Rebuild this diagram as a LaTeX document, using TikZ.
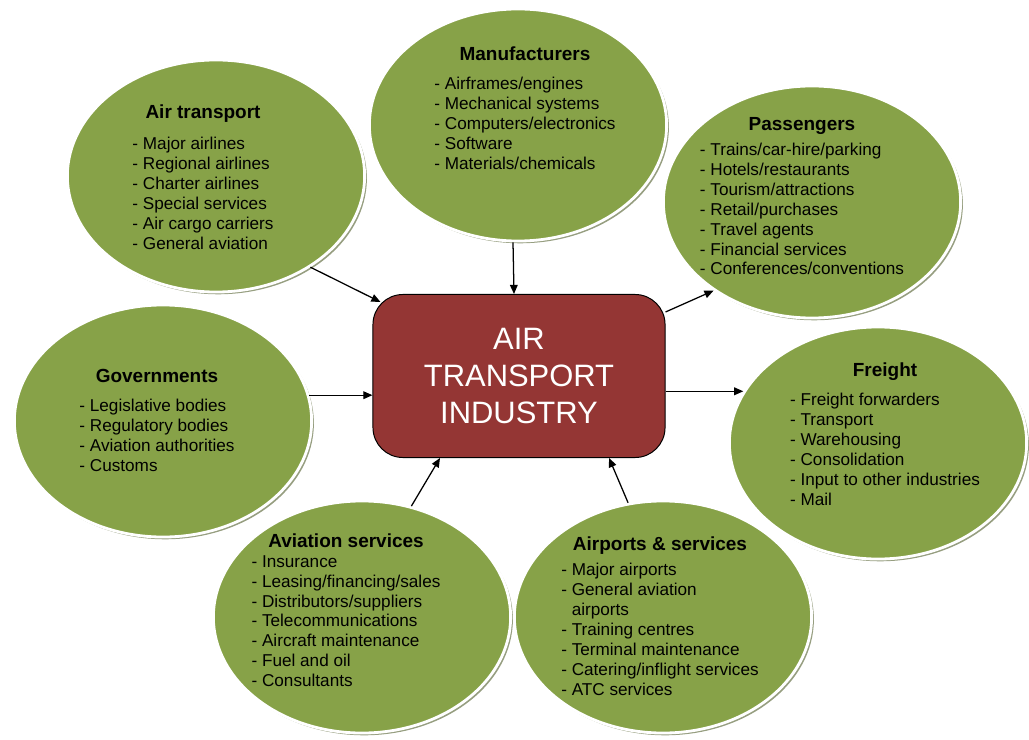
\documentclass[tikz,border=0pt]{standalone}
\usepackage{fontspec}
\setmainfont{Liberation Sans}
\usetikzlibrary{shapes.geometric,shadows,arrows.meta}

\definecolor{olivefill}{RGB}{135,162,72}
\definecolor{rimshade}{RGB}{150,158,128}
\definecolor{hubred}{RGB}{148,54,52}

\begin{document}
\begin{tikzpicture}[x=0.025cm,y=-0.025cm,
    sector/.style={ellipse,fill=olivefill,draw=white,line width=2pt,
      minimum width=7.43cm,minimum height=5.8cm,
      drop shadow={shadow xshift=1.6pt,shadow yshift=-1.6pt,fill=rimshade,opacity=1}},
    items/.style={font=\fontsize{12.2}{14.2}\selectfont,inner sep=0pt},
    link/.style={-{Triangle[length=6.5pt,width=5.5pt]},line width=0.9pt}]
  \useasboundingbox (0,0) rectangle (1029,740);

  % the seven sectors around the industry
  \node[sector] (transport) at (216,176) {};
  \node[sector] (makers) at (518,125) {};
  \node[sector] (passengers) at (812,202) {};
  \node[sector] (govts) at (163,421) {};
  \node[sector] (freight) at (878,443) {};
  \node[sector] (aviserv) at (362,617) {};
  \node[sector] (airports) at (663,617) {};

  \node[items] (transport-list) at (203,180) {\begin{tabular}{@{}l@{}}
    \multicolumn{1}{@{}c@{}}{\bfseries\fontsize{13.5}{14.2}\selectfont Air transport}\\[7.8pt]
    - Major airlines\\ - Regional airlines\\ - Charter airlines\\
    - Special services\\ - Air cargo carriers\\ - General aviation\end{tabular}};
  \node[items] (makers-list) at (525,111) {\begin{tabular}{@{}l@{}}
    \multicolumn{1}{@{}c@{}}{\bfseries\fontsize{13.5}{14.2}\selectfont Manufacturers}\\[7pt]
    - Airframes/engines\\ - Mechanical systems\\ - Computers/electronics\\
    - Software\\ - Materials/chemicals\end{tabular}};
  \node[items] (passengers-list) at (802,199) {\begin{tabular}{@{}l@{}}
    \multicolumn{1}{@{}c@{}}{\bfseries\fontsize{13.5}{14.2}\selectfont Passengers}\\[3pt]
    - Trains/car-hire/parking\\ - Hotels/restaurants\\ - Tourism/attractions\\
    - Retail/purchases\\ - Travel agents\\ - Financial services\\
    - Conferences/conventions\end{tabular}};
  \node[items] (govts-list) at (157,423) {\begin{tabular}{@{}l@{}}
    \multicolumn{1}{@{}c@{}}{\bfseries\fontsize{13.5}{14.2}\selectfont Governments}\\[6.4pt]
    - Legislative bodies\\ - Regulatory bodies\\ - Aviation authorities\\
    - Customs\end{tabular}};
  \node[items] (freight-list) at (885,437) {\begin{tabular}{@{}l@{}}
    \multicolumn{1}{@{}c@{}}{\bfseries\fontsize{13.5}{14.2}\selectfont Freight}\\[6.4pt]
    - Freight forwarders\\ - Transport\\ - Warehousing\\ - Consolidation\\
    - Input to other industries\\ - Mail\end{tabular}};
  \node[items] (aviserv-list) at (346,613) {\begin{tabular}{@{}l@{}}
    \multicolumn{1}{@{}c@{}}{\bfseries\fontsize{13.5}{14.2}\selectfont Aviation services}\\[0pt]
    - Insurance\\ - Leasing/financing/sales\\ - Distributors/suppliers\\
    - Telecommunications\\ - Aircraft maintenance\\ - Fuel and oil\\
    - Consultants\end{tabular}};
  \node[items] (airports-list) at (660,619) {\begin{tabular}{@{}l@{}}
    \multicolumn{1}{@{}c@{}}{\bfseries\fontsize{13.5}{14.2}\selectfont Airports \& services}\\[3.5pt]
    - Major airports\\ - General aviation\\ \phantom{- }airports\\
    - Training centres\\ - Terminal maintenance\\ - Catering/inflight services\\
    - ATC services\end{tabular}};

  % centre box
  \node[rectangle,rounded corners=0.75cm,fill=hubred,draw=black,line width=0.7pt,
    minimum width=7.3cm,minimum height=4.075cm,text=white,align=center,
    font=\fontsize{22}{26}\selectfont] (industry) at (519,376) {AIR\\TRANSPORT\\INDUSTRY};

  % links
  \draw[link] (transport.-44) -- ([shift={(0.2cm,-0.2cm)}]industry.north west);
  \draw[link] ([xshift=-0.125cm]makers.south) -- ([xshift=-0.125cm]industry.north);
  \draw[link] ([yshift=-0.45cm]industry.north east) -- (passengers.222);
  \draw[link] (govts.10) -- (govts.10 -| industry.west);
  \draw[link] (industry.east |- freight.159) -- (freight.159);
  \draw[link] (aviserv.66) -- ([xshift=-1.975cm]industry.south);
  \draw[link] (airports.107) -- ([xshift=2.25cm]industry.south);
\end{tikzpicture}
\end{document}
